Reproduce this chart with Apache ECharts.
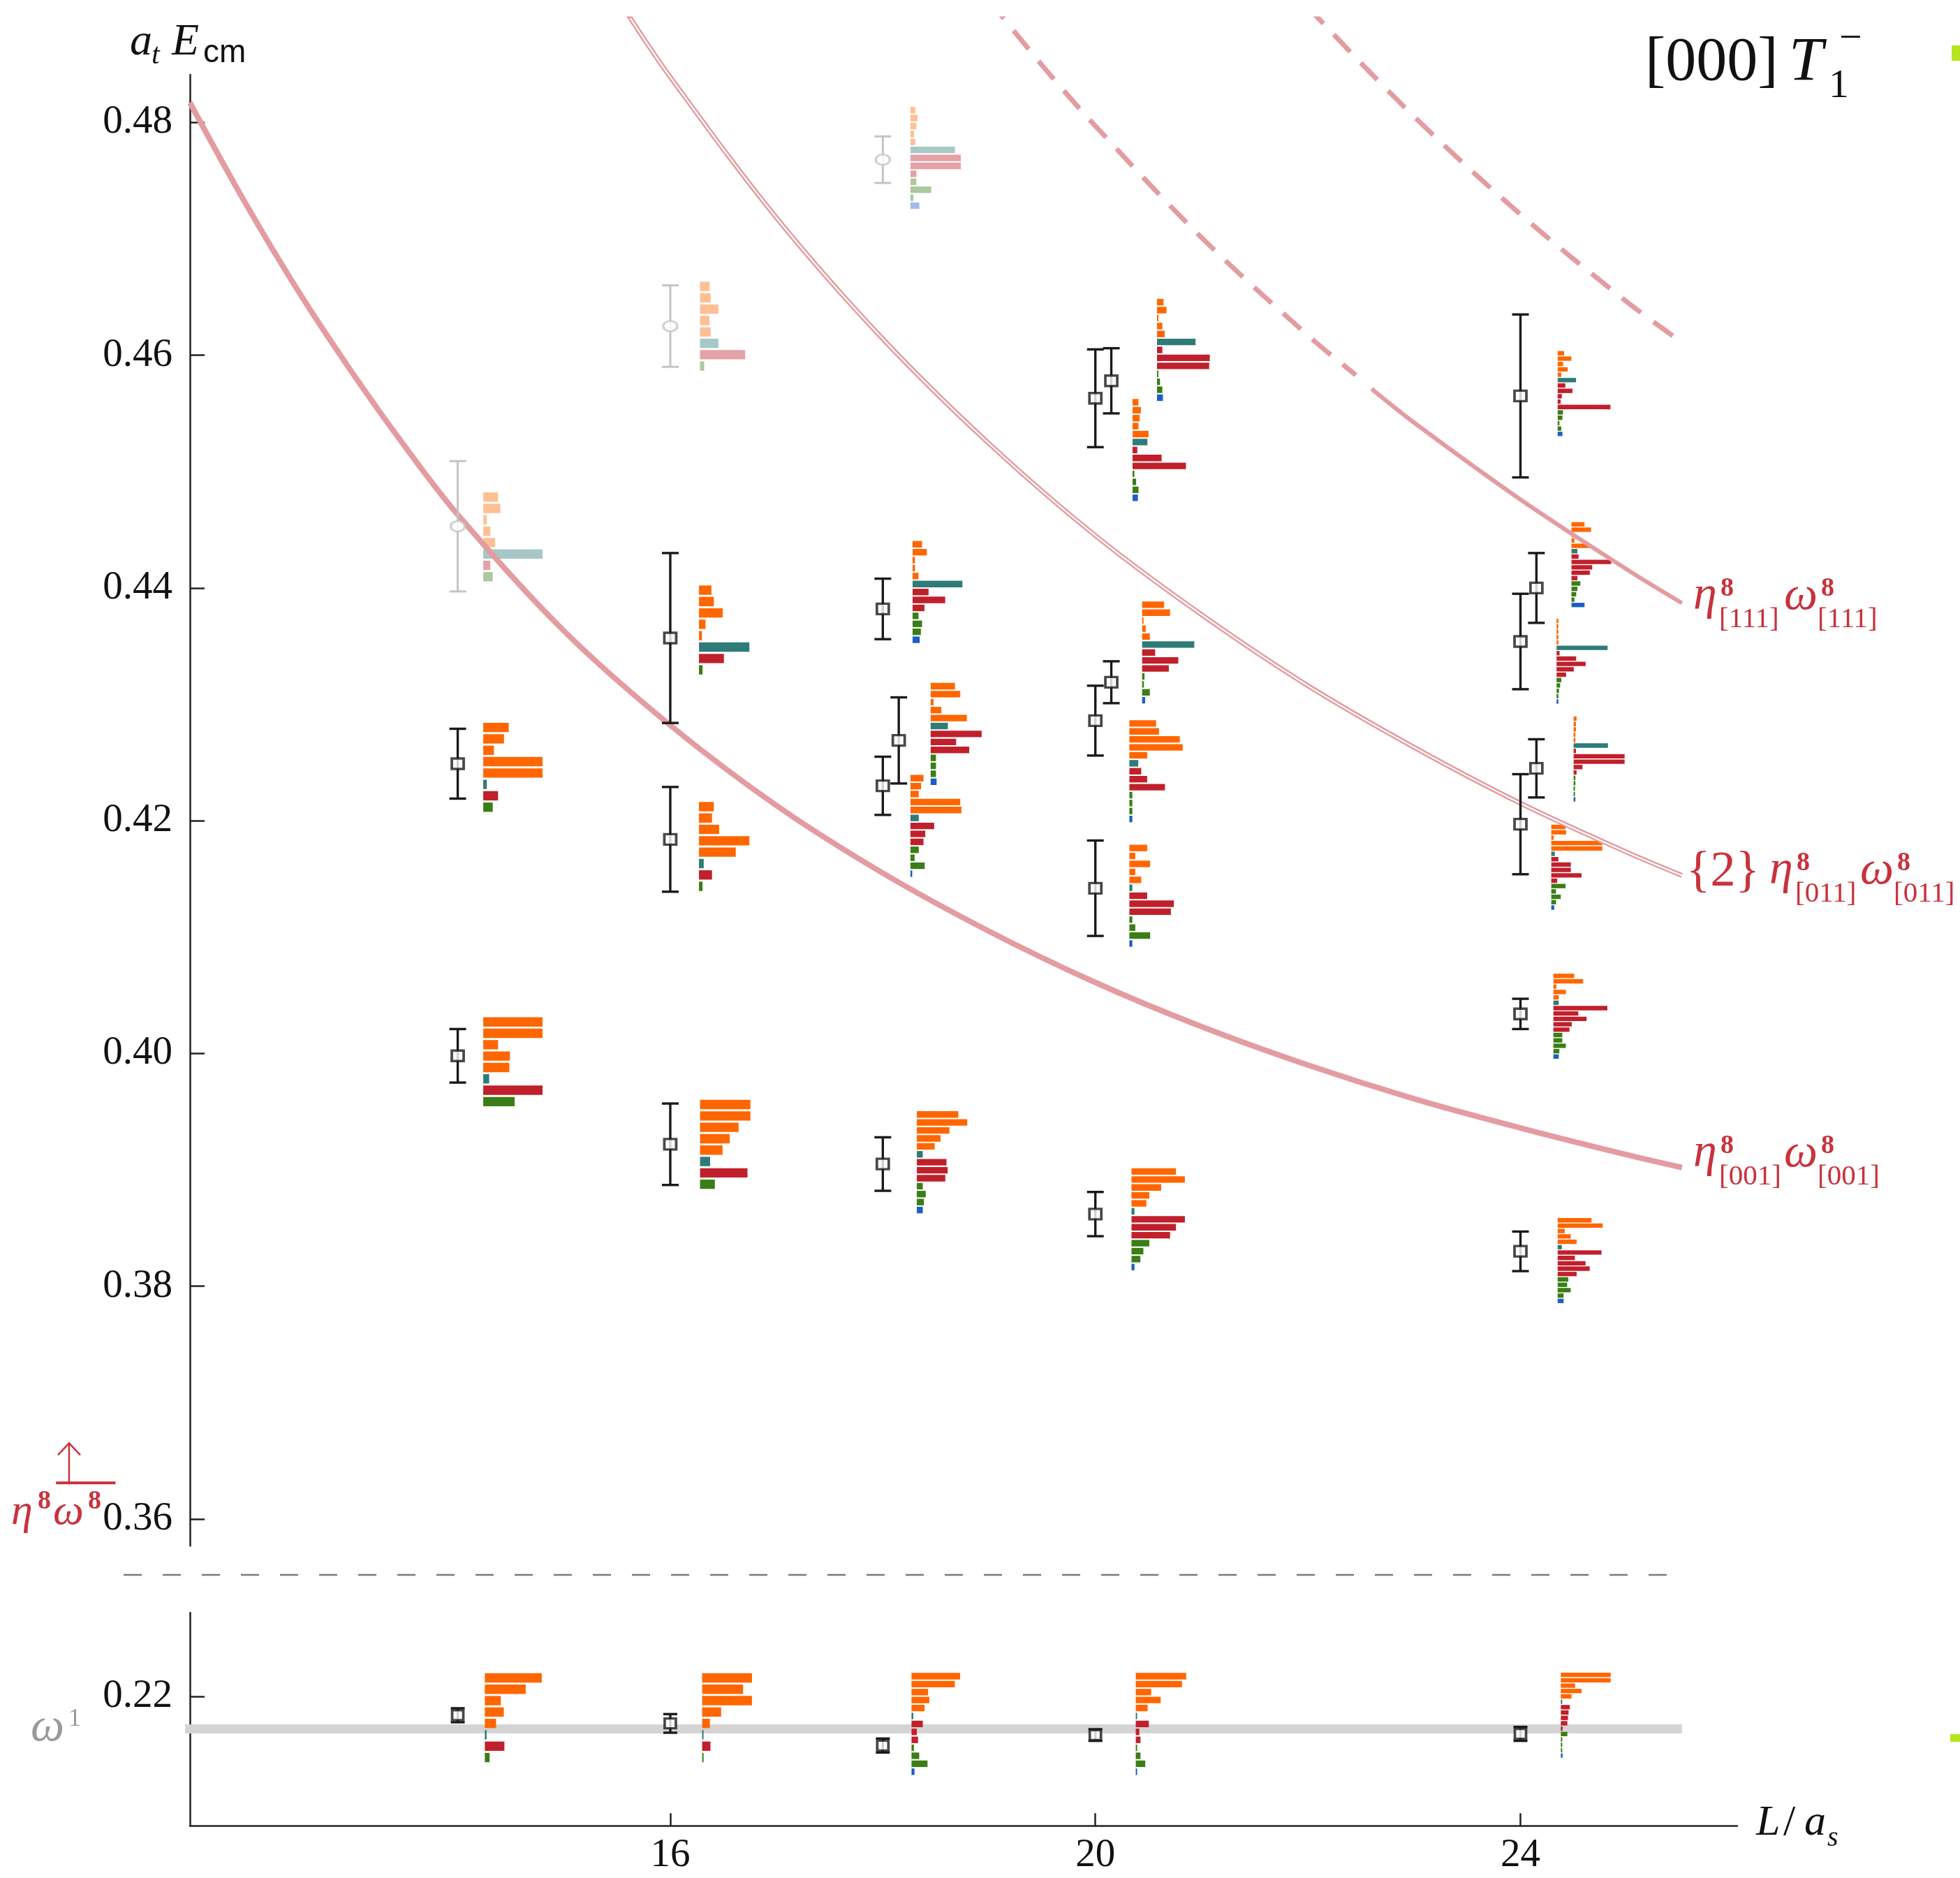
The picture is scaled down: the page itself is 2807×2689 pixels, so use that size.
<!DOCTYPE html>
<html><head><meta charset="utf-8">
<script src="https://cdn.jsdelivr.net/npm/echarts@6/dist/echarts.min.js"></script>
<style>html,body{margin:0;padding:0;background:#fff}#c{width:2807px;height:2689px}</style>
</head><body><div id="c"></div>
<script>
// ---------------- DATA ----------------
// x axis ticks and y tick labels
const xTicks = [16, 20, 24];
const yTicksUpper = [0.36, 0.38, 0.40, 0.42, 0.44, 0.46, 0.48];
const yTicksLower = [0.22];

// upper panel: energy levels (black squares)
const levelL   = [14, 14, 16, 16, 16, 18, 18.15, 18, 18, 20, 20.15, 20.15, 20, 20, 20, 24, 24.15, 24, 24.15, 24, 24, 24];
const levelE   = [0.4249, 0.3998, 0.4357, 0.4184, 0.3922, 0.4382, 0.4269, 0.4230, 0.3905, 0.4563, 0.4578, 0.4319, 0.4286, 0.4142, 0.3862, 0.4565, 0.4400, 0.4354, 0.4245, 0.4197, 0.4034, 0.3830];
const levelErr = [0.0030, 0.0023, 0.0073, 0.0045, 0.0035, 0.0026, 0.0037, 0.0025, 0.0023, 0.0042, 0.0028, 0.0018, 0.0030, 0.0041, 0.0019, 0.0070, 0.0030, 0.0041, 0.0025, 0.0043, 0.0013, 0.0017];

// upper panel: faded (unused) levels
const ghostL   = [14, 16, 18];
const ghostE   = [0.4453, 0.4625, 0.4768];
const ghostErr = [0.0056, 0.0035, 0.0020];

// lower panel: omega-like level
const lowerL   = [14, 16, 18, 20, 24];
const lowerE   = [0.2184, 0.2177, 0.2158, 0.2167, 0.2168];
const lowerErr = [0.0006, 0.0008, 0.0006, 0.0005, 0.0006];

// omega^1 reference band and eta8 omega8 threshold
const omegaBandL = [10.5, 25.52];
const omegaBandE = 0.21723;
const thresholdL = [10.22, 10.78];
const thresholdArrowL = 10.343;
const thresholdE = 0.3631;

// non-interacting curves
const curve001L = [11.48, 12, 12.5, 13, 13.5, 14, 15, 16, 17, 18, 19, 20, 21, 22, 23, 24, 25, 25.52];
const curve001E = [0.4817, 0.4731, 0.4655, 0.4586, 0.4522, 0.4463, 0.4363, 0.4282, 0.4213, 0.4155, 0.4105, 0.4061, 0.4023, 0.3990, 0.3961, 0.3936, 0.3913, 0.3902];
const curve011L = [15.6, 16, 17, 18, 19, 20, 21, 22, 23, 24, 25, 25.52];
const curve011E = [0.4893, 0.4839, 0.4718, 0.4614, 0.4524, 0.4445, 0.4377, 0.4316, 0.4263, 0.4215, 0.4173, 0.4153];
const curve111DashL = [19, 19.5, 20, 21, 22, 22.45];
const curve111DashE = [0.4905, 0.4849, 0.4797, 0.4701, 0.4617, 0.4583];
const curve111L = [22.6, 23, 24, 25, 25.52];
const curve111E = [0.4571, 0.4542, 0.4476, 0.4416, 0.4387];
const curve002L = [21.5, 22, 23, 24, 25, 25.52];
const curve002E = [0.4950, 0.4899, 0.4805, 0.4721, 0.4646, 0.4611];

// operator-overlap histograms: start L, top energy, panel (0 upper / 1 lower), faded flag, values
const histL     = [14.24, 14.24, 14.24, 16.28, 16.27, 16.27, 16.28, 18.26, 18.28, 18.45, 18.26, 18.32, 20.58, 20.35, 20.44, 20.32, 20.32, 20.34, 24.35, 24.48, 24.34, 24.5, 24.29, 24.31, 24.35, 14.255, 16.3, 18.27, 20.38, 24.38];
const histTop   = [0.4483, 0.4285, 0.4032, 0.4664, 0.4403, 0.4217, 0.3961, 0.4814, 0.4441, 0.4319, 0.4240, 0.3951, 0.4649, 0.4563, 0.4389, 0.4287, 0.4180, 0.3902, 0.4604, 0.4457, 0.4374, 0.4290, 0.4197, 0.4069, 0.3859, 0.2221, 0.2221, 0.2221, 0.2221, 0.2221];
const histPanel = [0,0,0,0,0,0,0,0,0,0,0,0,0,0,0,0,0,0,0,0,0,0,0,0,0,1,1,1,1,1];
const histGhost = [1,0,0,1,0,0,0,1,0,0,0,0,0,0,0,0,0,0,0,0,0,0,0,0,0,0,0,0,0,0];
const histVals = [
  [0.25,0.29,0.06,0.12,0.20,1.00,0.12,0.16],
  [0.43,0.35,0.18,1.00,1.00,0.06,0.25,0.16],
  [1.00,1.00,0.25,0.45,0.44,0.10,1.00,0.53],
  [0.16,0.18,0.31,0.16,0.18,0.31,0.76,0.07],
  [0.21,0.25,0.40,0.11,0.05,0.85,0.42,0.06],
  [0.25,0.22,0.34,0.85,0.62,0.08,0.22,0.06],
  [0.85,0.85,0.65,0.50,0.38,0.17,0.80,0.25],
  [0.08,0.12,0.10,0.06,0.08,0.75,0.85,0.85,0.10,0.10,0.35,0.05,0.15],
  [0.16,0.24,0.04,0.04,0.10,0.84,0.27,0.55,0.20,0.10,0.16,0.14,0.12],
  [0.41,0.50,0.05,0.18,0.61,0.29,0.86,0.43,0.65,0.09,0.09,0.09,0.10],
  [0.22,0.18,0.14,0.84,0.86,0.14,0.40,0.25,0.22,0.14,0.07,0.24,0.03],
  [0.70,0.85,0.55,0.40,0.30,0.10,0.50,0.52,0.48,0.10,0.15,0.12,0.10],
  [0.11,0.16,0.02,0.09,0.13,0.65,0.09,0.89,0.88,0.02,0.05,0.09,0.10],
  [0.10,0.14,0.12,0.10,0.27,0.25,0.08,0.49,0.90,0.03,0.06,0.10,0.09],
  [0.37,0.47,0.02,0.06,0.13,0.88,0.22,0.61,0.45,0.04,0.03,0.13,0.05],
  [0.45,0.50,0.85,0.90,0.30,0.15,0.20,0.30,0.60,0.05,0.05,0.05,0.05],
  [0.30,0.10,0.35,0.10,0.20,0.05,0.30,0.75,0.70,0.05,0.10,0.35,0.05],
  [0.75,0.90,0.50,0.30,0.25,0.05,0.90,0.75,0.65,0.30,0.20,0.15,0.05],
  [0.11,0.23,0.09,0.17,0.06,0.31,0.13,0.25,0.07,0.05,0.89,0.09,0.08,0.03,0.06,0.08],
  [0.22,0.33,0.02,0.05,0.31,0.10,0.12,0.67,0.35,0.31,0.10,0.15,0.10,0.08,0.05,0.22],
  [0.03,0.03,0.03,0.03,0.03,0.86,0.05,0.33,0.49,0.29,0.16,0.08,0.06,0.04,0.03,0.03],
  [0.05,0.04,0.04,0.03,0.03,0.58,0.04,0.86,0.86,0.15,0.05,0.03,0.03,0.02,0.02,0.03],
  [0.24,0.25,0.04,0.86,0.86,0.06,0.12,0.33,0.33,0.51,0.10,0.24,0.08,0.16,0.08,0.05],
  [0.35,0.50,0.05,0.21,0.09,0.09,0.91,0.42,0.56,0.31,0.27,0.15,0.15,0.21,0.10,0.09],
  [0.57,0.76,0.12,0.22,0.32,0.07,0.74,0.29,0.47,0.54,0.32,0.18,0.16,0.22,0.10,0.10],
  [0.96,0.69,0.27,0.32,0.19,0.03,0.33,0.08],
  [0.84,0.69,0.84,0.32,0.13,0.02,0.14,0.02],
  [0.82,0.73,0.28,0.30,0.22,0.03,0.19,0.09,0.11,0.04,0.13,0.27,0.05],
  [0.85,0.78,0.26,0.42,0.20,0.02,0.22,0.06,0.08,0.02,0.08,0.16,0.01],
  [0.84,0.84,0.24,0.35,0.18,0.02,0.15,0.13,0.12,0.11,0.03,0.11,0.01,0.01,0.01,0.03]
];

// ---------------- STYLE ----------------
const COL = {O:'#ff6600', T:'#2e7b78', R:'#c0202c', G:'#3b7d16', B:'#1d5fc0'};
const LAYOUT = {8:'OOOOOTRG', 13:'OOOOOTRRRGGGB', 16:'OOOOOTRRRRRGGGGB'};
const PITCH = {8:16.3, 13:11.4, 16:7.7};
const BAR_SCALE = 0.558;
const PINK = '#e39ca1';
const LABEL_RED = '#c8323c';
const SERIF = '"Liberation Serif", "DejaVu Serif", serif';
const SANS = '"Liberation Sans", "DejaVu Sans", sans-serif';
const X_MIN = 11.48, X_MAX = 26.04;

function zip(a, b) { return a.map((v, i) => [v, b[i]]); }
function errData(L, E, e) { return L.map((v, i) => [v, E[i], e[i]]); }

function errRender(color, lw, cap) {
  return function (params, api) {
    const L = api.value(0), E = api.value(1), e = api.value(2);
    const t = api.coord([L, E + e]), b = api.coord([L, E - e]);
    const st = {stroke: color, lineWidth: lw};
    return {type: 'group', children: [
      {type: 'line', shape: {x1: t[0], y1: t[1], x2: b[0], y2: b[1]}, style: st},
      {type: 'line', shape: {x1: t[0] - cap, y1: t[1], x2: t[0] + cap, y2: t[1]}, style: st},
      {type: 'line', shape: {x1: b[0] - cap, y1: b[1], x2: b[0] + cap, y2: b[1]}, style: st}
    ]};
  };
}

function histData(panel) {
  const d = [];
  histVals.forEach((v, h) => {
    if (histPanel[h] === panel) v.forEach((val, i) => d.push([h, i, histL[h], histTop[h]]));
  });
  return d;
}
function histRender(params, api) {
  const h = api.value(0), i = api.value(1);
  const vals = histVals[h], n = vals.length, p = PITCH[n];
  const a = api.coord([histL[h], histTop[h]]);
  const b = api.coord([histL[h] + vals[i] * BAR_SCALE, histTop[h]]);
  return {type: 'rect',
    shape: {x: a[0], y: a[1] + i * p + p * 0.09, width: Math.max(b[0] - a[0], 2), height: p * 0.82},
    style: {fill: COL[LAYOUT[n][i]], opacity: histGhost[h] ? 0.42 : 1}};
}

function thresholdRender(params, api) {
  const a = api.coord([thresholdL[0], thresholdE]);
  const b = api.coord([thresholdL[1], thresholdE]);
  const m = api.coord([thresholdArrowL, thresholdE]);
  const st = {stroke: LABEL_RED, lineWidth: 4};
  const top = m[1] - 57;
  return {type: 'group', children: [
    {type: 'line', shape: {x1: a[0], y1: a[1], x2: b[0], y2: b[1]}, style: st},
    {type: 'line', shape: {x1: m[0], y1: m[1], x2: m[0], y2: top}, style: {stroke: LABEL_RED, lineWidth: 2.5}},
    {type: 'polyline', shape: {points: [[m[0] - 16, top + 17], [m[0], top], [m[0] + 16, top + 17]]}, style: {stroke: LABEL_RED, lineWidth: 2.5, fill: null}}
  ]};
}

function T(x, base, text, size, o) {
  o = o || {};
  return {type: 'text', x: x, y: base - 0.34 * size, silent: true, z: 50,
    style: {text: text, fontSize: size, fontFamily: o.family || SERIF,
      fontStyle: o.italic ? 'italic' : 'normal', fontWeight: o.bold ? 'bold' : 'normal',
      fill: o.color || '#111', verticalAlign: 'middle', textVerticalAlign: 'middle',
      align: 'left', textAlign: 'left'}};
}
function pairLabel(x, base, sub) {
  const c = {color: LABEL_RED};
  return [
    T(x, base, 'η', 68, {italic: true, color: LABEL_RED}),
    T(x + 39, base - 21, '8', 38, {bold: true, color: LABEL_RED}),
    T(x + 37, base + 24, sub, 41, c),
    T(x + 130, base, 'ω', 68, {italic: true, color: LABEL_RED}),
    T(x + 183, base - 21, '8', 38, {bold: true, color: LABEL_RED}),
    T(x + 178, base + 24, sub, 41, c)
  ];
}

const graphics = [].concat(
  [T(186, 83, 'a', 64, {italic: true}), T(217, 94, 't', 42, {italic: true}),
   T(246, 83, 'E', 64, {italic: true}), T(291, 92, 'cm', 46, {family: SANS}),
   T(2356, 121, '[000]', 88), T(2562, 121, 'T', 88, {italic: true}),
   T(2619, 143, '1', 58), T(2634, 76, '−', 58),
   T(2515, 2632, 'L', 62, {italic: true}), T(2554, 2632, '/', 62),
   T(2584, 2632, 'a', 62, {italic: true}), T(2617, 2646, 's', 40, {italic: true}),
   T(16, 2187, 'η', 62, {italic: true, color: LABEL_RED}), T(54, 2163, '8', 38, {bold: true, color: LABEL_RED}),
   T(76, 2187, 'ω', 62, {italic: true, color: LABEL_RED}), T(126, 2163, '8', 38, {bold: true, color: LABEL_RED}),
   T(44, 2497, 'ω', 68, {italic: true, color: '#9a9a9a'}), T(98, 2474, '1', 36, {color: '#9a9a9a'}),
   T(2415, 1274, '{2}', 72, {color: LABEL_RED})],
  pairLabel(2425, 877, '[111]'),
  pairLabel(2534, 1270, '[011]'),
  pairLabel(2425, 1675, '[001]'),
  [{type: 'line', silent: true, shape: {x1: 177, y1: 2255, x2: 2408, y2: 2255},
    style: {stroke: '#7a7a7a', lineWidth: 2.5, lineDash: [26, 30]}},
   {type: 'rect', silent: true, shape: {x: 2795, y: 65, width: 12, height: 22}, style: {fill: '#b5e61d'}},
   {type: 'rect', silent: true, shape: {x: 2793, y: 2483, width: 14, height: 11}, style: {fill: '#b5e61d'}}]
);

const labelFmt = v => Number(v).toFixed(2);
function curve(L, E, color, width, dash) {
  return {type: 'line', xAxisIndex: 0, yAxisIndex: 0, z: 3, silent: true, showSymbol: false,
    smooth: 0.35, data: zip(L, E),
    lineStyle: {color: color, width: width, type: dash || 'solid', cap: 'butt'}};
}

const option = {
  animation: false,
  backgroundColor: '#fff',
  grid: [
    {left: 272, right: 319, top: 27, bottom: 475.7, outerBoundsMode: 'none'},
    {left: 272, right: 319, top: 107, bottom: 475.7, outerBoundsMode: 'none'},
    {left: 272, right: 319, top: 2309.3, bottom: 74.7, outerBoundsMode: 'none'}
  ],
  xAxis: [
    {gridIndex: 0, type: 'value', min: X_MIN, max: X_MAX, show: false},
    {gridIndex: 1, type: 'value', min: X_MIN, max: X_MAX, show: false},
    {gridIndex: 2, type: 'value', min: X_MIN, max: X_MAX,
      axisLine: {show: true, onZero: false, lineStyle: {color: '#222', width: 2.5}},
      axisTick: {show: true, inside: true, length: 18, customValues: xTicks, lineStyle: {color: '#222', width: 2.5}},
      axisLabel: {customValues: xTicks, fontSize: 57, fontFamily: SERIF, color: '#111', margin: 14},
      splitLine: {show: false}}
  ],
  yAxis: [
    {gridIndex: 0, type: 'value', min: 0.3577, max: 0.4889, show: false},
    {gridIndex: 1, type: 'value', min: 0.3577, max: 0.4841,
      axisLine: {show: true, onZero: false, lineStyle: {color: '#222', width: 2.5}},
      axisTick: {show: true, inside: true, length: 21, customValues: yTicksUpper, lineStyle: {color: '#222', width: 2.5}},
      axisLabel: {customValues: yTicksUpper, formatter: labelFmt, fontSize: 57, fontFamily: SERIF, color: '#111', margin: 25},
      splitLine: {show: false}},
    {gridIndex: 2, type: 'value', min: 0.2089, max: 0.2272,
      axisLine: {show: true, onZero: false, lineStyle: {color: '#222', width: 2.5}},
      axisTick: {show: true, inside: true, length: 21, customValues: yTicksLower, lineStyle: {color: '#222', width: 2.5}},
      axisLabel: {customValues: yTicksLower, formatter: labelFmt, fontSize: 57, fontFamily: SERIF, color: '#111', margin: 25},
      splitLine: {show: false}}
  ],
  graphic: graphics,
  series: [
    {type: 'line', xAxisIndex: 2, yAxisIndex: 2, clip: false, silent: true, z: 1,
      data: omegaBandL.map(l => [l, omegaBandE]), showSymbol: false,
      lineStyle: {color: '#d4d4d4', width: 13, cap: 'butt'}},
    {type: 'custom', xAxisIndex: 0, yAxisIndex: 0, z: 2, silent: true,
      encode: {x: 2, y: 3}, data: histData(0), renderItem: histRender},
    {type: 'custom', xAxisIndex: 2, yAxisIndex: 2, z: 2, silent: true,
      encode: {x: 2, y: 3}, data: histData(1), renderItem: histRender},
    curve(curve001L, curve001E, PINK, 8),
    curve(curve011L, curve011E, PINK, 7),
    curve(curve011L, curve011E, '#ffffff', 2.2),
    curve(curve111DashL, curve111DashE, PINK, 7, [34, 22]),
    curve(curve111L, curve111E, PINK, 6),
    curve(curve002L, curve002E, PINK, 7, [34, 22]),
    {type: 'custom', xAxisIndex: 0, yAxisIndex: 0, z: 4, silent: true, clip: false,
      data: [[thresholdArrowL, thresholdE]], renderItem: thresholdRender},
    {type: 'custom', xAxisIndex: 0, yAxisIndex: 0, z: 4, silent: true,
      data: errData(ghostL, ghostE, ghostErr), renderItem: errRender('#c4c4c4', 3, 12)},
    {type: 'scatter', xAxisIndex: 0, yAxisIndex: 0, z: 5, silent: true,
      data: zip(ghostL, ghostE), symbol: 'circle', symbolSize: [20, 15],
      itemStyle: {color: '#fff', borderColor: '#c4c4c4', borderWidth: 3}},
    {type: 'custom', xAxisIndex: 0, yAxisIndex: 0, z: 4, silent: true,
      data: errData(levelL, levelE, levelErr), renderItem: errRender('#1a1a1a', 3.4, 12)},
    {type: 'scatter', xAxisIndex: 0, yAxisIndex: 0, z: 5, silent: true,
      data: zip(levelL, levelE), symbol: 'rect', symbolSize: [17, 15],
      itemStyle: {color: '#fff', borderColor: '#1a1a1a', borderWidth: 3.5}},
    {type: 'custom', xAxisIndex: 2, yAxisIndex: 2, z: 4, silent: true,
      data: errData(lowerL, lowerE, lowerErr), renderItem: errRender('#1a1a1a', 3.4, 10)},
    {type: 'scatter', xAxisIndex: 2, yAxisIndex: 2, z: 5, silent: true,
      data: zip(lowerL, lowerE), symbol: 'rect', symbolSize: [16, 14],
      itemStyle: {color: '#fff', borderColor: '#1a1a1a', borderWidth: 3.5}}
  ]
};

const chart = echarts.init(document.getElementById('c'), null, {renderer: 'canvas', width: 2807, height: 2689});
chart.setOption(option);
</script>
</body></html>
